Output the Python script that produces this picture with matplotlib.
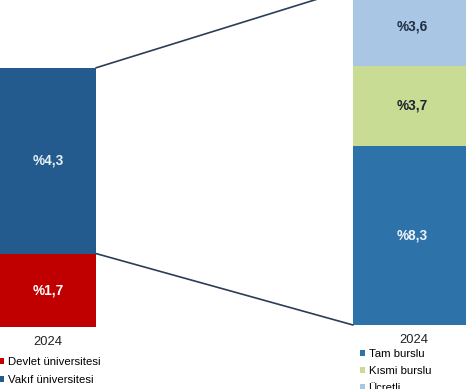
import matplotlib.pyplot as plt
from matplotlib.patches import ConnectionPatch

plt.rcParams['font.family'] = ['Liberation Sans', 'DejaVu Sans']

# ── data ──
YEAR = '2024'
LEFT_LABELS = ['Devlet üniversitesi', 'Vakıf üniversitesi']
LEFT_VALUES = [1.7, 4.3]
LEFT_COLORS = ['#c00000', '#245b8e']
LEFT_TEXT = ['#ffffff', '#e8eef5']

RIGHT_LABELS = ['Tam burslu', 'Kısmi burslu', 'Ücretli']
RIGHT_VALUES = [8.3, 3.7, 3.6]
RIGHT_COLORS = ['#2e72aa', '#c9dc94', '#a9c6e4']
RIGHT_TEXT = ['#eef3fa', '#1c2530', '#1f2f45']

W, H = 466, 389
fig = plt.figure(figsize=(W / 100, H / 100), dpi=100)


def px_axes(x0, y_bottom_from_top, width, height):
    # pixel box (from top-left) -> figure fraction
    return fig.add_axes([x0 / W, (H - y_bottom_from_top) / H, width / W, height / H])


def fmt(v):
    return '%' + f'{v:.1f}'.replace('.', ',')


# left stacked bar: ~43.2 px per unit
ax_l = px_axes(0, 327, 96, sum(LEFT_VALUES) * 43.2)
# right stacked bar: ~21.6 px per unit (runs off the top of the figure)
ax_r = px_axes(353, 325, 118, sum(RIGHT_VALUES) * 21.6)

for ax, vals, cols, tcols, labels in [
        (ax_l, LEFT_VALUES, LEFT_COLORS, LEFT_TEXT, LEFT_LABELS),
        (ax_r, RIGHT_VALUES, RIGHT_COLORS, RIGHT_TEXT, RIGHT_LABELS)]:
    bottom = 0
    for v, c, tc, lb in zip(vals, cols, tcols, labels):
        ax.bar(0, v, width=1.0, bottom=bottom, color=c, label=lb)
        ax.text(0, bottom + v / 2, fmt(v), ha='center', va='center',
                fontsize=9.8, fontweight='bold', color=tc)
        bottom += v
    ax.set_xlim(-0.5, 0.5)
    ax.set_ylim(0, sum(vals))
    ax.axis('off')

# connector lines between the two bars
for ya, yb in [(sum(LEFT_VALUES), sum(RIGHT_VALUES)), (LEFT_VALUES[0], 0)]:
    con = ConnectionPatch(xyA=(0.5, ya), coordsA=ax_l.transData,
                          xyB=(-0.5, yb), coordsB=ax_r.transData,
                          color='#2b3e55', linewidth=1.2)
    fig.add_artist(con)

# year labels
fig.text(48 / W, 1 - 342 / H, YEAR, ha='center', va='center', fontsize=9.3, color='#222222')
fig.text(414 / W, 1 - 340 / H, YEAR, ha='center', va='center', fontsize=9.3, color='#222222')

# legends
h, l = ax_l.get_legend_handles_labels()
fig.legend(h, l, loc='upper left', bbox_to_anchor=(-1 / W, 1 - 357 / H),
           frameon=False, fontsize=8.2, handlelength=0.45, handleheight=0.45,
           handletextpad=0.3, labelspacing=0.72, borderpad=0, borderaxespad=0)
h, l = ax_r.get_legend_handles_labels()
fig.legend(h, l, loc='upper left', bbox_to_anchor=(360 / W, 1 - 349 / H),
           frameon=False, fontsize=8.2, handlelength=0.45, handleheight=0.45,
           handletextpad=0.3, labelspacing=0.62, borderpad=0, borderaxespad=0)

fig.savefig('out.png', dpi=100)
